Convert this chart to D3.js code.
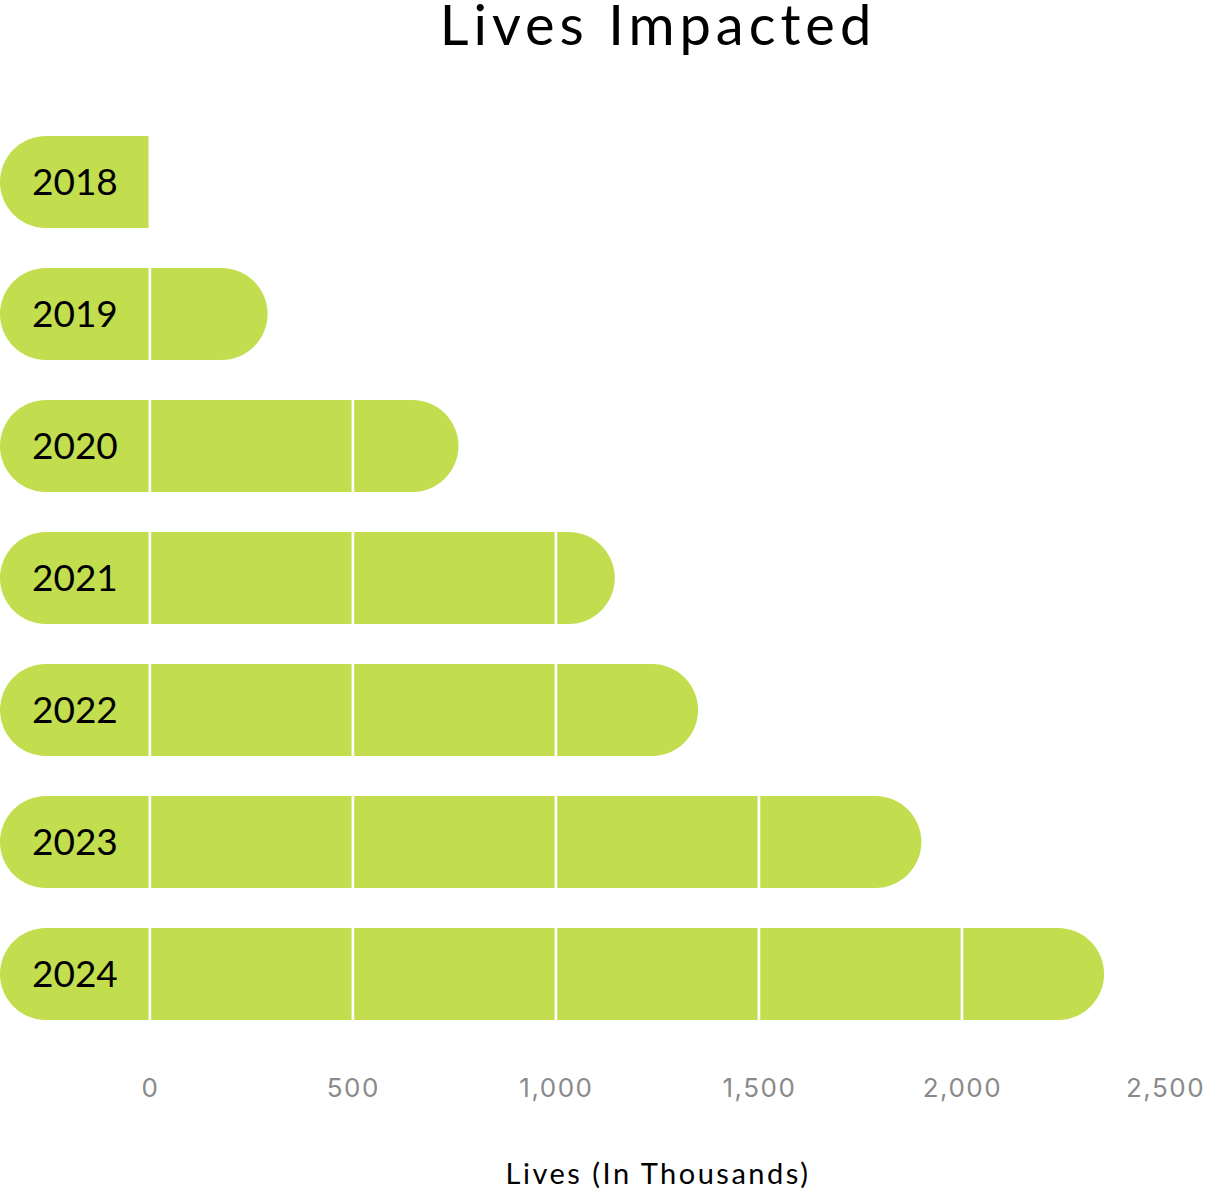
<!DOCTYPE html>
<html>
<head>
<meta charset="utf-8">
<script src="https://cdn.jsdelivr.net/npm/d3@7"></script>
<style>
  html, body { margin: 0; padding: 0; background: #fff; }
  svg { display: block; }
</style>
</head>
<body>
<svg id="chart" width="1227" height="1191"></svg>
<script>
const years = ["2018", "2019", "2020", "2021", "2022", "2023", "2024"];
const lives = [0, 290, 760, 1145, 1350, 1900, 2350];
const tickValues = [0, 500, 1000, 1500, 2000, 2500];
const gridValues = [0, 500, 1000, 1500, 2000];
const labelStart = -369;
const title = "Lives Impacted";
const axisTitle = "Lives (In Thousands)";

const svg = d3.select("#chart");
const barColor = "#c2dd4e";
const titleFont = "Lato, 'Open Sans', sans-serif";

const x = d3.scaleLinear().domain([labelStart, 2500]).range([0, 1165]);
const y = d3.scaleBand().domain(years).range([116, 1040])
  .paddingInner(40 / 132).paddingOuter(20 / 132);

function barPath(x0, x1, y0, h, rl, rr) {
  const p = d3.path();
  p.moveTo(x0 + rl, y0);
  p.lineTo(x1 - rr, y0);
  if (rr > 0) p.arc(x1 - rr, y0 + rr, rr, -Math.PI / 2, Math.PI / 2);
  else p.lineTo(x1, y0 + h);
  p.lineTo(x0 + rl, y0 + h);
  p.arc(x0 + rl, y0 + h - rl, rl, Math.PI / 2, 3 * Math.PI / 2);
  p.closePath();
  return p.toString();
}

const data = years.map((yr, i) => ({ year: yr, value: lives[i] }));
const bh = y.bandwidth();
const r = bh / 2;

svg.append("g").selectAll("path").data(data).join("path")
  .attr("d", d => barPath(x(labelStart), x(d.value), y(d.year), bh, r, d.value > 0 ? r : 0))
  .attr("fill", barColor);

// white gridlines over bars
svg.append("g").selectAll("line").data(gridValues).join("line")
  .attr("x1", d => x(d)).attr("x2", d => x(d))
  .attr("y1", y(years[0])).attr("y2", y(years[years.length - 1]) + bh)
  .attr("stroke", "#fff").attr("stroke-width", 2.7);

// year labels
svg.append("g").selectAll("text").data(data).join("text")
  .attr("x", (x(labelStart) + x(0)) / 2)
  .attr("y", d => y(d.year) + bh / 2)
  .attr("dy", "0.36em")
  .attr("text-anchor", "middle")
  .attr("font-family", titleFont)
  .attr("font-size", 37)
  .attr("fill", "#000")
  .text(d => d.year);

// x axis
const axis = svg.append("g")
  .attr("transform", `translate(0, 1079)`)
  .call(d3.axisBottom(x).tickValues(tickValues).tickFormat(d3.format(",")).tickSize(0).tickPadding(0));
axis.select(".domain").remove();
axis.selectAll("text")
  .attr("dy", "0.71em")
  .attr("font-family", "Inter, Roboto, sans-serif")
  .attr("font-size", 26)
  .attr("letter-spacing", 1.5)
  .attr("fill", "#8a8a8a");

// title
svg.append("text")
  .attr("x", 658).attr("y", 45)
  .attr("text-anchor", "middle")
  .attr("font-family", titleFont)
  .attr("font-size", 56)
  .attr("letter-spacing", 5)
  .attr("fill", "#000")
  .text(title);

// axis title
svg.append("text")
  .attr("x", 658).attr("y", 1184)
  .attr("text-anchor", "middle")
  .attr("font-family", titleFont)
  .attr("font-size", 29)
  .attr("letter-spacing", 2.5)
  .attr("fill", "#000")
  .text(axisTitle);
</script>
</body>
</html>
